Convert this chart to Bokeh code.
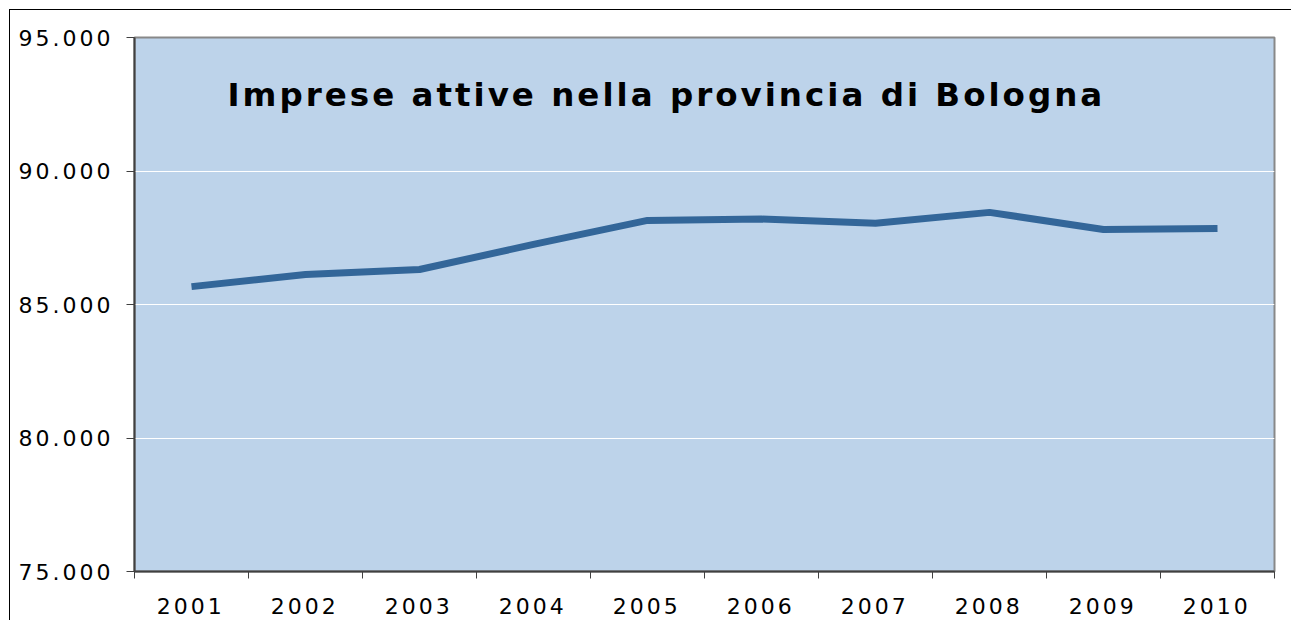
from bokeh.plotting import figure
from bokeh.models import FixedTicker, Range1d, Label, CustomJSTickFormatter
from bokeh.embed import file_html
from bokeh.resources import INLINE

years = [2001, 2002, 2003, 2004, 2005, 2006, 2007, 2008, 2009, 2010]
imprese = [85670, 86120, 86310, 87250, 88150, 88200, 88040, 88450, 87810, 87850]
y_ticks = [75000, 80000, 85000, 90000, 95000]
y_labels = ["75.000", "80.000", "85.000", "90.000", "95.000"]
title_text = "Imprese attive nella provincia di Bologna"

p = figure(
    frame_width=1140, frame_height=534,
    min_border_left=124, min_border_top=27, min_border_right=17, min_border_bottom=49,
    x_range=Range1d(years[0] - 0.5, years[-1] + 0.5),
    y_range=Range1d(y_ticks[0], y_ticks[-1]),
    output_backend="svg", toolbar_location=None,
    border_fill_color="white",
)
p.styles = {"letter-spacing": "3px", "margin-left": "9px", "margin-top": "9px",
            "border-top": "1px solid #000000", "border-left": "1px solid #000000"}

p.background_fill_color = "#BDD3EA"
p.outline_line_color = "#888888"
p.outline_line_width = 2

# line
p.line(years, imprese, line_color="#336699", line_width=7)

# x axis: minor ticks at category boundaries, labels (no tick marks) at centres
label_shift = 0.06
xa = p.xaxis[0]
xa.ticker = FixedTicker(ticks=[y - label_shift for y in years],
                        minor_ticks=[y - 0.5 for y in years] + [years[-1] + 0.5])
xa.formatter = CustomJSTickFormatter(code="return Math.round(tick).toString();")
xa.major_tick_line_color = None
xa.minor_tick_out = 7
xa.minor_tick_in = 0
xa.minor_tick_line_color = "#404040"
xa.minor_tick_line_width = 1
xa.axis_line_color = "#404040"
xa.axis_line_width = 2
xa.major_label_text_font = "DejaVu Sans"
xa.major_label_text_font_size = "22px"
xa.major_label_text_color = "#000000"
xa.major_label_standoff = 19

# y axis
ya = p.yaxis[0]
ya.ticker = FixedTicker(ticks=y_ticks, minor_ticks=[])
ya.major_label_overrides = {t: l for t, l in zip(y_ticks, y_labels)}
ya.major_tick_out = 8
ya.major_tick_in = 0
ya.major_tick_line_color = "#404040"
ya.axis_line_color = "#404040"
ya.axis_line_width = 2
ya.major_label_text_font = "DejaVu Sans"
ya.major_label_text_font_size = "22px"
ya.major_label_text_color = "#000000"
ya.major_label_standoff = 31

p.xgrid.grid_line_color = None
p.ygrid.grid_line_color = "white"
p.ygrid.grid_line_width = 1
p.ygrid.ticker = FixedTicker(ticks=y_ticks[1:-1])

title = Label(x=2001.316, y=92830, text=title_text, text_font="DejaVu Sans",
              text_font_style="bold", text_font_size="32.5px", text_color="#000000",
              text_baseline="middle", text_align="left")
p.add_layout(title)

open("out.html", "w").write(file_html(p, INLINE))
